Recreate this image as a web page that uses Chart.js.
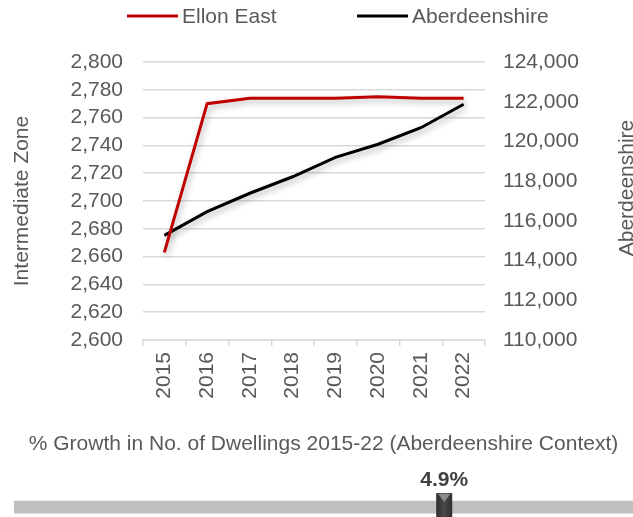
<!DOCTYPE html>
<html>
<head>
<meta charset="utf-8">
<script src="https://cdn.jsdelivr.net/npm/chart.js@4.4.1/dist/chart.umd.min.js"></script>
<style>
  html, body { margin: 0; padding: 0; background: #fff; overflow: hidden; }
  #lineBox { width: 633px; height: 410px; position: relative; }
  #gaugeBox { width: 633px; height: 107px; position: relative; }
</style>
</head>
<body>
<div id="lineBox"><canvas id="dwellingChart"></canvas></div>
<div id="gaugeBox"><canvas id="growthGauge"></canvas></div>
<script>
// dwellings per year
var years = ['2015', '2016', '2017', '2018', '2019', '2020', '2021', '2022'];
var ellonEast = [2663, 2770, 2774, 2774, 2774, 2775, 2774, 2774];
var aberdeenshire = [115270, 116460, 117390, 118220, 119200, 119860, 120690, 121870];

// axis ranges
var zoneAxis = [2600, 2800, 20];
var shireAxis = [110000, 124000, 2000];

// growth gauge
var gaugeRange = [0, 7.05];
var growthValue = 4.9;

var FONT = '"Liberation Sans", Arial, sans-serif';
var GREY_TEXT = '#595959';
var GRID = '#d9d9d9';

Chart.defaults.font.family = FONT;
Chart.defaults.font.size = 21;
Chart.defaults.color = GREY_TEXT;

var fmt = function (v) { return Number(v).toLocaleString('en-US'); };

var lineShadow = {
  id: 'lineShadow',
  beforeDatasetsDraw: function (chart) {
    var ctx = chart.ctx;
    ctx.save();
    ctx.shadowColor = 'rgba(0,0,0,0.3)';
    ctx.shadowBlur = 6;
    ctx.shadowOffsetX = 2;
    ctx.shadowOffsetY = 3;
  },
  afterDatasetsDraw: function (chart) {
    chart.ctx.restore();
  }
};

var extras = {
  id: 'extras',
  afterDraw: function (chart) {
    var ctx = chart.ctx;
    var starts = [127, 357];
    ctx.save();
    ctx.font = '21px ' + FONT;
    ctx.textBaseline = 'middle';
    ctx.textAlign = 'left';
    chart.data.datasets.forEach(function (ds, i) {
      var x = starts[i];
      ctx.strokeStyle = ds.borderColor;
      ctx.lineWidth = 3;
      ctx.beginPath();
      ctx.moveTo(x, 16);
      ctx.lineTo(x + 51, 16);
      ctx.stroke();
      ctx.fillStyle = GREY_TEXT;
      ctx.fillText(ds.label, x + 55, 17);
    });
    // right axis title, cut off at the page edge
    ctx.translate(633, 188);
    ctx.rotate(-Math.PI / 2);
    ctx.textAlign = 'center';
    ctx.textBaseline = 'alphabetic';
    ctx.fillText('Aberdeenshire', 0, 0);
    ctx.restore();
  }
};

new Chart(document.getElementById('dwellingChart'), {
  type: 'line',
  data: {
    labels: years,
    datasets: [
      {
        label: 'Ellon East',
        data: ellonEast,
        borderColor: '#c00000',
        backgroundColor: '#c00000',
        borderWidth: 3,
        pointRadius: 0,
        tension: 0,
        yAxisID: 'y'
      },
      {
        label: 'Aberdeenshire',
        data: aberdeenshire,
        borderColor: '#000000',
        backgroundColor: '#000000',
        borderWidth: 3,
        pointRadius: 0,
        tension: 0,
        yAxisID: 'y1'
      }
    ]
  },
  options: {
    responsive: true,
    maintainAspectRatio: false,
    animation: false,
    layout: { padding: { top: 62, left: 0, right: 0, bottom: 0 } },
    plugins: {
      legend: { display: false },
      tooltip: { enabled: false }
    },
    scales: {
      x: {
        offset: true,
        grid: { offset: true, drawOnChartArea: false, drawTicks: true, tickLength: 6, color: GRID, lineWidth: 1.5 },
        border: { color: GRID, width: 1.5 },
        ticks: { minRotation: 90, maxRotation: 90, padding: 6, color: GREY_TEXT },
        afterFit: function (s) { s.height = 70; }
      },
      y: {
        position: 'left',
        min: zoneAxis[0],
        max: zoneAxis[1],
        ticks: { stepSize: zoneAxis[2], autoSkip: false, padding: 20, callback: fmt, color: GREY_TEXT },
        grid: { color: GRID, lineWidth: 1.5, drawTicks: false },
        border: { display: false },
        title: { display: true, text: 'Intermediate Zone', color: GREY_TEXT, padding: { top: 10, bottom: 0 } },
        afterFit: function (s) { s.width = 143; }
      },
      y1: {
        position: 'right',
        min: shireAxis[0],
        max: shireAxis[1],
        ticks: { stepSize: shireAxis[2], autoSkip: false, padding: 18, callback: fmt, color: GREY_TEXT },
        grid: { drawOnChartArea: false, drawTicks: false },
        border: { display: false },
        afterFit: function (s) { s.width = 148; }
      }
    }
  },
  plugins: [lineShadow, extras]
});

var gaugeMarker = {
  id: 'gaugeMarker',
  afterDatasetsDraw: function (chart) {
    var ctx = chart.ctx;
    var x = chart.scales.x.getPixelForValue(growthValue);
    var cy = chart.getDatasetMeta(0).data[0].y;
    var top = cy - 14, bottom = cy + 11;
    ctx.save();
    var g = ctx.createLinearGradient(x - 8, 0, x + 8, 0);
    g.addColorStop(0, '#2e2e2e');
    g.addColorStop(0.5, '#4a4a4a');
    g.addColorStop(1, '#2e2e2e');
    ctx.fillStyle = g;
    ctx.fillRect(x - 8, top, 16, bottom - top);
    ctx.fillStyle = '#8c8c8c';
    ctx.beginPath();
    ctx.moveTo(x - 6, top + 1);
    ctx.lineTo(x + 6, top + 1);
    ctx.lineTo(x, top + 9);
    ctx.closePath();
    ctx.fill();
    ctx.font = 'bold 21px ' + FONT;
    ctx.fillStyle = '#404040';
    ctx.textAlign = 'center';
    ctx.textBaseline = 'middle';
    ctx.fillText(growthValue.toFixed(1) + '%', x, top - 13);
    ctx.restore();
  }
};

new Chart(document.getElementById('growthGauge'), {
  type: 'bar',
  data: {
    labels: ['Growth'],
    datasets: [{
      data: [gaugeRange],
      backgroundColor: '#bfbfbf',
      borderWidth: 0,
      barThickness: 12
    }]
  },
  options: {
    indexAxis: 'y',
    responsive: true,
    maintainAspectRatio: false,
    animation: false,
    layout: { padding: { top: 0, left: 14, right: 0, bottom: 0 } },
    plugins: {
      legend: { display: false },
      tooltip: { enabled: false },
      title: {
        display: true,
        text: '% Growth in No. of Dwellings 2015-22 (Aberdeenshire Context)',
        color: GREY_TEXT,
        font: { size: 21, weight: 'normal' },
        padding: { top: 22, bottom: 40 }
      }
    },
    scales: {
      x: { display: false, min: gaugeRange[0], max: gaugeRange[1] },
      y: { display: false }
    }
  },
  plugins: [gaugeMarker]
});
</script>
</body>
</html>
